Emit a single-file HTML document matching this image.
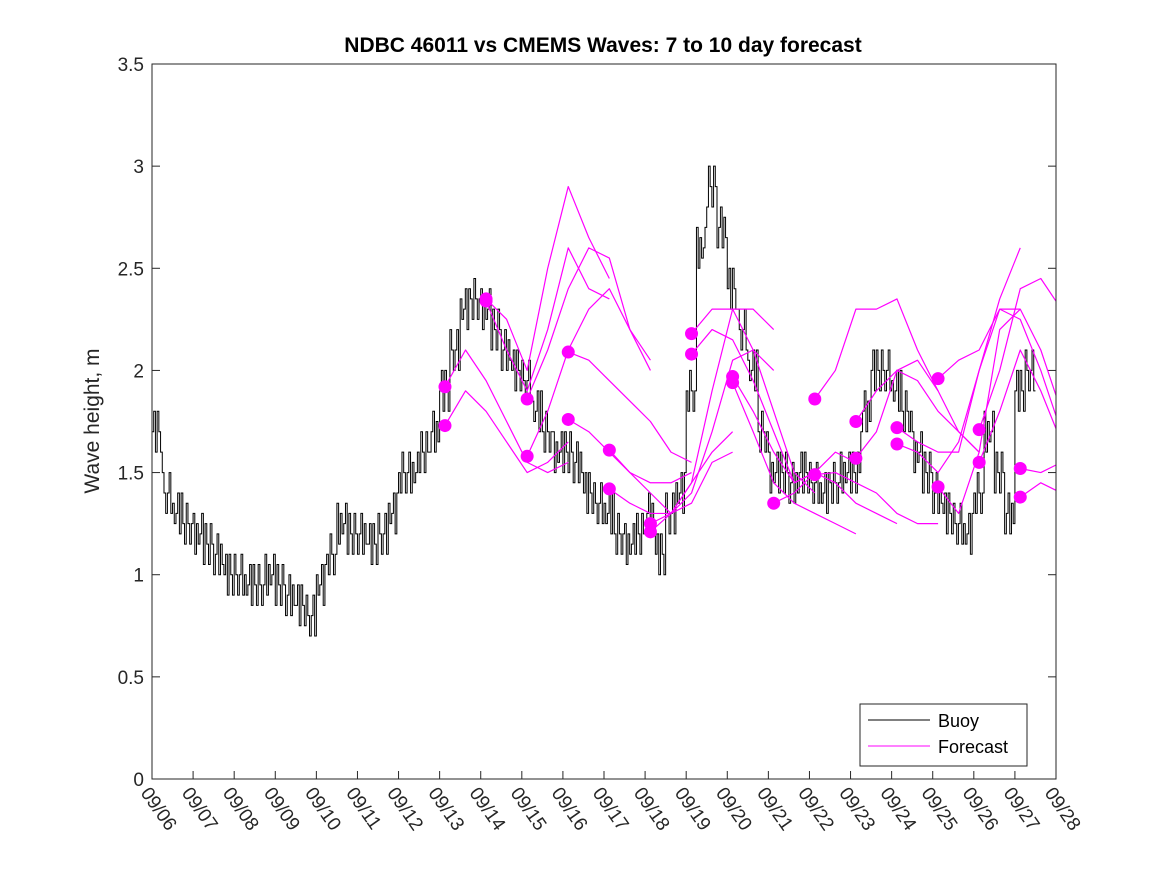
<!DOCTYPE html>
<html><head><meta charset="utf-8"><style>
body{margin:0;background:#fff;}
svg{font-family:"Liberation Sans",sans-serif;display:block}
</style></head><body>
<svg id="chart" width="1167" height="875" viewBox="0 0 1167 875">
<rect x="0" y="0" width="1167" height="875" fill="#fff"/>
<defs><clipPath id="pc"><rect x="152" y="64" width="904" height="715"/></clipPath></defs>
<text x="603" y="52" text-anchor="middle" font-size="21" font-weight="bold" fill="#000">NDBC 46011 vs CMEMS Waves: 7 to 10 day forecast</text>
<text transform="translate(99,421) rotate(-90)" text-anchor="middle" font-size="21" fill="#262626">Wave height, m</text>
<g id="axes"></g>
<g id="marks" clip-path="url(#pc)"></g>
<rect x="152" y="64" width="904" height="715" fill="none" stroke="#262626" stroke-width="1"/>
<g>
<rect x="860" y="704" width="167" height="62" fill="#fff" stroke="#262626"/>
<line x1="868" y1="720" x2="930" y2="720" stroke="#000"/>
<text x="938" y="727" font-size="18" fill="#000">Buoy</text>
<line x1="868" y1="746" x2="930" y2="746" stroke="#ff00ff"/>
<text x="938" y="753" font-size="18" fill="#000">Forecast</text>
</g>
</svg>
<script>
const xTickLabels=["09/06","09/07","09/08","09/09","09/10","09/11","09/12","09/13","09/14","09/15","09/16","09/17","09/18","09/19","09/20","09/21","09/22","09/23","09/24","09/25","09/26","09/27","09/28"];
const yTicks=[0,0.5,1,1.5,2,2.5,3,3.5];
const buoyStep=0.25;
const buoyValues=[1.7,1.4,1.3,1.25, 1.2,1.15,1.1,1.0, 1.0,0.95,0.95,1.0, 0.95,0.9,0.85,0.8, 0.95,1.1,1.25,1.2,
1.2,1.15,1.2,1.3, 1.5,1.5,1.6,1.7, 1.9,2.1,2.3,2.35, 2.3,2.2,2.1,2.0, 1.95,1.8,1.7,1.6,
1.6,1.55,1.4,1.35, 1.3,1.2,1.15,1.2, 1.3,1.1,1.3,1.4, 1.9,2.6,2.9,2.7, 2.4,2.2,2.0,1.7,
1.5,1.5,1.45,1.5, 1.45,1.4,1.45,1.5, 1.5,1.8,2.0,2.0, 1.9,1.8,1.6,1.5, 1.4,1.3,1.25,1.2,
1.4,1.7,1.5,1.3, 1.9,2.0];
const buoyJitter=[0,0.1,-0.1,0.1,0,-0.1,0.1,0,-0.1,0,0.1,-0.1,0.05,-0.05];
const fcStarts=[7.13,7.13,8.13,8.13,9.13,9.13,10.13,10.13,11.13,11.13,12.13,12.13,13.13,13.13,14.13,14.13,15.13,16.13,16.13,17.13,17.13,18.13,18.13,19.13,19.13,20.13,20.13,21.13,21.13];
const fcStep=0.5;
const fcValues=[
[1.92,2.1,1.95,1.75,1.55,1.5,1.55],
[1.73,1.9,1.8,1.65,1.5,1.55,1.65],
[2.35,2.25,2.0,2.5,2.9,2.65,2.45],
[2.34,2.1,1.9,2.2,2.6,2.4,2.35],
[1.86,2.1,2.4,2.6,2.55,2.2,2.0],
[1.58,1.8,2.1,2.3,2.4,2.2,2.05],
[2.09,2.05,1.95,1.85,1.75,1.6,1.55],
[1.76,1.7,1.6,1.5,1.45,1.45,1.5],
[1.61,1.5,1.4,1.3,1.35,1.55,1.6],
[1.42,1.35,1.3,1.3,1.45,1.6,1.7],
[1.25,1.3,1.45,1.9,2.3,2.3,2.2],
[1.21,1.3,1.4,1.7,2.05,2.1,2.0],
[2.18,2.3,2.3,2.1,1.8,1.5,1.4],
[2.08,2.2,2.15,1.95,1.7,1.45,1.5],
[1.97,1.8,1.6,1.45,1.5,1.6,1.55],
[1.94,1.7,1.45,1.35,1.3,1.25,1.2],
[1.35,1.4,1.5,1.45,1.35,1.3,1.25],
[1.86,2.0,2.3,2.3,2.35,2.1,1.9],
[1.49,1.5,1.45,1.4,1.3,1.25,1.25],
[1.75,1.9,2.0,1.95,1.8,1.7,1.6],
[1.57,1.7,2.0,2.05,1.9,1.7,1.6],
[1.72,1.65,1.6,1.6,2.0,2.35,2.6],
[1.64,1.6,1.5,1.65,2.0,2.3,2.3],
[1.96,2.05,2.1,2.3,2.25,2.0,1.7],
[1.43,1.3,1.6,2.2,2.3,2.1,1.8],
[1.71,2.0,2.4,2.45,2.3,2.0,1.9],
[1.55,1.8,2.1,1.9,1.65,1.6,1.6],
[1.52,1.5,1.55,1.75],
[1.38,1.45,1.4]];
const NS="http://www.w3.org/2000/svg";
const X0=152,X1=1056,Y0=779,Y1=64,DAYS=22,YMAX=3.5;
function xs(d){return X0+d*(X1-X0)/DAYS;}
function ys(v){return Y0-v*(Y0-Y1)/YMAX;}
function mk(tag,attrs,parent){const e=document.createElementNS(NS,tag);for(const k in attrs)e.setAttribute(k,attrs[k]);parent.appendChild(e);return e;}
const axes=document.getElementById('axes'),marks=document.getElementById('marks');
yTicks.forEach(v=>{
  const l=mk('line',{x1:X0,x2:X0+8,y1:ys(v),y2:ys(v),stroke:'#262626'},axes);
  
  
  const l2=mk('line',{x1:X1-8,x2:X1,y1:ys(v),y2:ys(v),stroke:'#262626'},axes);
  
  
  const t=mk('text',{x:X0-8,y:ys(v)+7,'text-anchor':'end','font-size':19,fill:'#262626'},axes);
  t.textContent=String(v);
  
  
});
xTickLabels.forEach((s,i)=>{
  const x=xs(i);
  const l=mk('line',{x1:x,x2:x,y1:Y0,y2:Y0-8,stroke:'#262626'},axes);
  
  
  const t=mk('text',{x:0,y:0,transform:`translate(${x-12},${Y0+14}) rotate(55)`,'font-size':19,fill:'#262626'},axes);
  t.textContent=s;
  
  
});
let pts=[];
const SUB=6;
buoyValues.forEach((v,i)=>{
  const d0=i*buoyStep;
  for(let k=0;k<SUB;k++){
    const vv=v+buoyJitter[(i*SUB+k)%buoyJitter.length];
    const d=d0+k*buoyStep/SUB;
    pts.push(xs(d)+','+ys(vv));
    pts.push(xs(d+buoyStep/SUB)+','+ys(vv));
  }
});
const bl=mk('polyline',{points:pts.join(' '),fill:'none',stroke:'#000','stroke-width':1},marks);


fcValues.forEach((arr,j)=>{
  const st=fcStarts[j];
  const p=arr.map((v,i)=>xs(st+i*fcStep)+','+ys(v)).join(' ');
  const pl=mk('polyline',{points:p,fill:'none',stroke:'#ff00ff','stroke-width':1.2,'stroke-linejoin':'round'},marks);
  
  
});
fcValues.forEach((arr,j)=>{
  const c=mk('circle',{cx:xs(fcStarts[j]),cy:ys(arr[0]),r:6.5,fill:'#ff00ff'},marks);
  
  
});
</script>
</body></html>
